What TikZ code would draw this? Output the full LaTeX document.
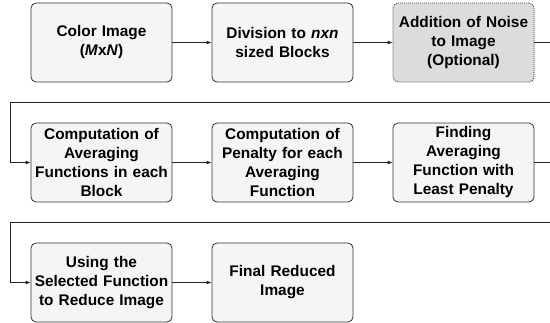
\documentclass[tikz,border=0pt]{standalone}
\usepackage{fontspec}
\setmainfont{Liberation Sans}
\usetikzlibrary{arrows.meta}
\definecolor{boxfill}{HTML}{F5F5F5}
\definecolor{noisefill}{HTML}{DCDCDC}
\definecolor{edge}{HTML}{333333}
\tikzset{
  stepbox/.style={draw=edge, fill=boxfill, rounded corners=5pt, line width=0.8pt,
    minimum width=141pt, minimum height=79pt, inner sep=0pt, align=center,
    font=\fontsize{15.4pt}{19pt}\selectfont\bfseries, text width=139pt},
  optbox/.style={stepbox, fill=noisefill, dash pattern=on 1pt off 1pt},
  conn/.style={draw=black!85, line width=0.8pt, -{Latex[length=5pt,width=4pt]}},
  plainconn/.style={draw=black!85, line width=0.8pt}
}
\begin{document}
\begin{tikzpicture}[x=1pt,y=-1pt]
\clip (0,0) rectangle (550,322);
\node[stepbox] (b1) at (101.5,42.5) {Color Image\\(\textit{M}x\textit{N})};
\node[stepbox] (b2) at (282.5,42.5) {Division to \textit{nxn}\\sized Blocks};
\node[optbox] (b3) at (463.5,42.5) {Addition of Noise\\to Image\\(Optional)};
\node[stepbox] (b4) at (101.5,162.5) {Computation of\\Averaging\\Functions in each\\Block};
\node[stepbox] (b5) at (282.5,162.5) {Computation of\\Penalty for each\\Averaging\\Function};
\node[stepbox] (b6) at (463.5,162.5) {Finding\\Averaging\\Function with\\Least Penalty};
\node[stepbox] (b7) at (101.5,282.5) {Using the\\Selected Function\\to Reduce Image};
\node[stepbox] (b8) at (282.5,282.5) {Final Reduced\\Image};
\coordinate (r1) at (553,42.5);
\coordinate (r1d) at (553,102.5);
\coordinate (l1) at (10.5,102.5);
\coordinate (r2) at (553,162.5);
\coordinate (r2d) at (553,222.5);
\coordinate (l2) at (10.5,222.5);
\draw[conn] (b1) -- (b2);
\draw[conn] (b2) -- (b3);
\draw[conn] (b3.east) -- (r1) -- (r1d) -- (l1) |- (b4.west);
\draw[conn] (b4) -- (b5);
\draw[conn] (b5) -- (b6);
\draw[conn] (b6.east) -- (r2) -- (r2d) -- (l2) |- (b7.west);
\draw[conn] (b7) -- (b8);
\end{tikzpicture}
\end{document}
